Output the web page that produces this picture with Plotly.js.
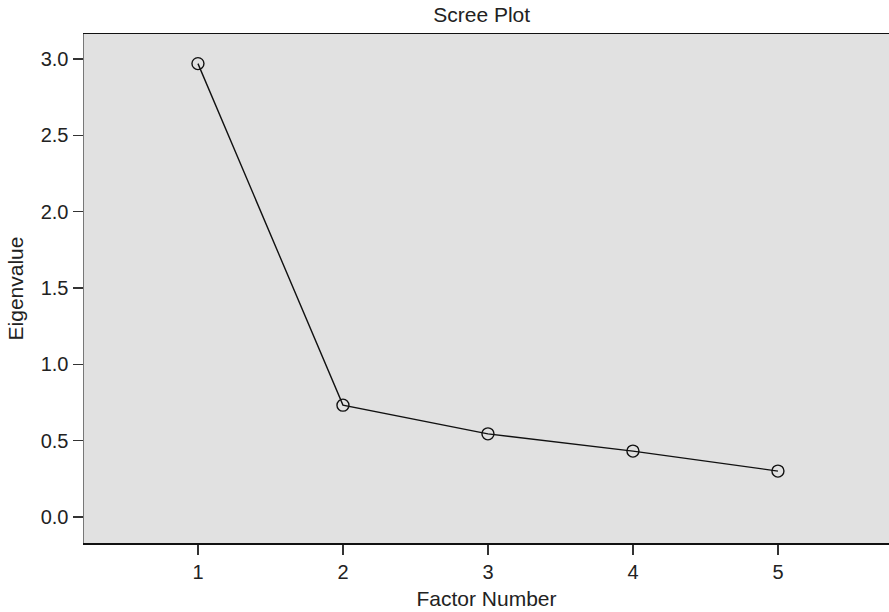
<!DOCTYPE html>
<html>
<head>
<meta charset="utf-8">
<script src="https://cdn.plot.ly/plotly-3.0.1.min.js"></script>
<style>html,body{margin:0;padding:0;background:#fff;}#chart{width:889px;height:612px;}</style>
</head>
<body>
<div id="chart"></div>
<script>
const factorNumbers = [1, 2, 3, 4, 5];
const eigenvalues = [2.97, 0.733, 0.545, 0.432, 0.301];
const yTickValues = [0.0, 0.5, 1.0, 1.5, 2.0, 2.5, 3.0];
const yTickLabels = ["0.0", "0.5", "1.0", "1.5", "2.0", "2.5", "3.0"];

const font = "Liberation Sans, Arial, Helvetica, sans-serif";

Plotly.newPlot("chart", [{
  x: factorNumbers,
  y: eigenvalues,
  type: "scatter",
  mode: "lines+markers",
  line: {color: "#111", width: 1.4},
  marker: {symbol: "circle-open", size: 12, color: "#111", line: {width: 1.4, color: "#111"}},
  hoverinfo: "skip"
}], {
  width: 889, height: 612,
  margin: {l: 84, r: 0, t: 34, b: 69, pad: 0},
  paper_bgcolor: "#ffffff",
  plot_bgcolor: "#e1e1e1",
  showlegend: false,
  font: {family: font, size: 20, color: "#222"},
  title: {text: "Scree Plot", font: {family: font, size: 21, color: "#222"}, x: 0.494, xref: "paper", y: 0.976, yanchor: "middle"},
  xaxis: {
    range: [0.214, 5.766],
    tickvals: factorNumbers,
    ticktext: factorNumbers.map(String),
    showgrid: false, zeroline: false,
    showline: true, linecolor: "#111", linewidth: 1.5, mirror: true,
    ticks: "outside", ticklen: 10, tickwidth: 1.5, tickcolor: "#333",
    tickfont: {family: font, size: 20, color: "#222"},
    title: {text: "Factor Number", font: {family: font, size: 21, color: "#222"}, standoff: 10}
  },
  yaxis: {
    range: [-0.17, 3.164],
    tickvals: yTickValues,
    ticktext: yTickLabels,
    showgrid: false, zeroline: false,
    showline: true, linecolor: "#777", linewidth: 1.5,
    ticks: "outside", ticklen: 10, tickwidth: 1.5, tickcolor: "#333",
    tickfont: {family: font, size: 20, color: "#222"},
    title: {text: "Eigenvalue", font: {family: font, size: 21, color: "#222"}, standoff: 11}
  }
}, {displayModeBar: false, staticPlot: true});
</script>
</body>
</html>
